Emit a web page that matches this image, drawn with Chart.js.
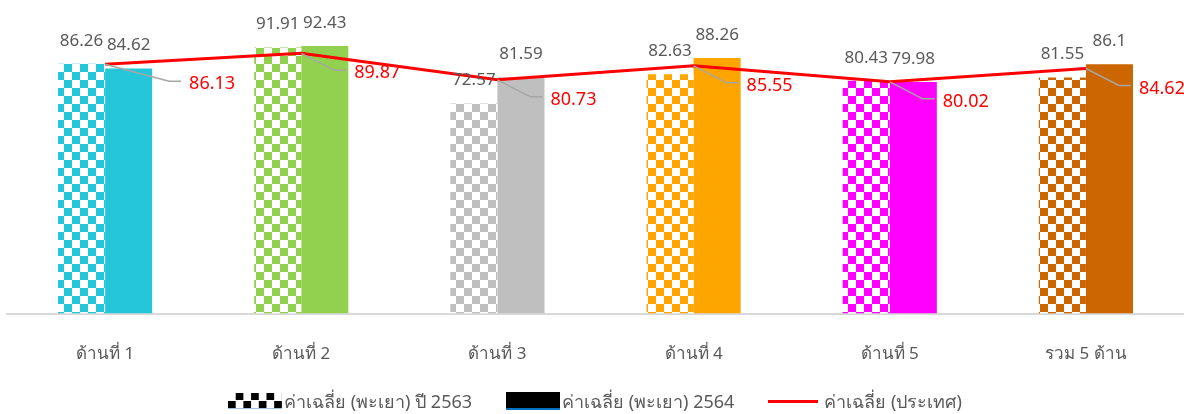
<!DOCTYPE html>
<html>
<head>
<meta charset="utf-8">
<script src="https://cdn.jsdelivr.net/npm/chart.js@4"></script>
<style>
    body { margin: 0; background: #fff; }
    .wrap { position: relative; width: 1184px; height: 414px; }
    #legend {
        position: absolute; left: 228px; top: 390px; height: 22px;
        display: flex; align-items: center;
        font-family: "Noto Sans", sans-serif; font-size: 18px; color: #595959;
    }
    .item { display: flex; align-items: center; margin-right: 34px; }
    .sw { width: 54px; height: 15px; margin-right: 2px; }
    .checker {
        background-image: conic-gradient(#000 25%, #fff 0 50%, #000 0 75%, #fff 0);
        background-size: 15.4px 15px;
        border-bottom: 1px solid #9dc3e6;
    }
    .solid { background: #000; border-bottom: 2px solid #0070c0; height: 16px; }
    .ln { width: 50px; height: 3px; background: #ff0000; margin-right: 6px; }
</style>
</head>
<body>
<div class="wrap">
    <canvas id="chart" width="1184" height="414"></canvas>
    <div id="legend">
        <div class="item"><div class="sw checker"></div>ค่าเฉลี่ย (พะเยา) ปี 2563</div>
        <div class="item"><div class="sw solid"></div>ค่าเฉลี่ย (พะเยา) 2564</div>
        <div class="item"><div class="ln"></div>ค่าเฉลี่ย (ประเทศ)</div>
    </div>
</div>
<script>
    var categories = ['ด้านที่ 1', 'ด้านที่ 2', 'ด้านที่ 3', 'ด้านที่ 4', 'ด้านที่ 5', 'รวม 5 ด้าน'];
    var values2563 = [86.26, 91.91, 72.57, 82.63, 80.43, 81.55];
    var values2564 = [84.62, 92.43, 81.59, 88.26, 79.98, 86.1];
    var countryAvg = [86.13, 89.87, 80.73, 85.55, 80.02, 84.62];
    var barColors = ['#26c6da', '#92d050', '#bfbfbf', '#ffa500', '#ff00ff', '#cc6600'];

    function checker(color) {
        var c = document.createElement('canvas');
        c.width = 16; c.height = 16;
        var g = c.getContext('2d');
        g.fillStyle = '#fff';
        g.fillRect(0, 0, 16, 16);
        g.fillStyle = color;
        g.fillRect(0, 0, 8, 8);
        g.fillRect(8, 8, 8, 8);
        return g.createPattern(c, 'repeat');
    }

    var labelPlugin = {
        id: 'labels',
        afterDatasetsDraw: function (chart) {
            var ctx = chart.ctx;
            ctx.save();
            ctx.textAlign = 'center';
            ctx.textBaseline = 'middle';
            ctx.font = '17px "Noto Sans", sans-serif';
            ctx.fillStyle = '#595959';
            [1, 2].forEach(function (di) {
                var ds = chart.data.datasets[di];
                chart.getDatasetMeta(di).data.forEach(function (bar, i) {
                    ctx.fillText(String(ds.data[i]), bar.x, bar.y - 23);
                });
            });
            // leader lines + red labels for the national average
            var line = chart.getDatasetMeta(0).data;
            ctx.font = '18px "Noto Sans", sans-serif';
            ctx.textAlign = 'left';
            line.forEach(function (pt, i) {
                var tx = pt.x + (i === 0 ? 84 : 53);
                ctx.strokeStyle = '#a6a6a6';
                ctx.lineWidth = 1.5;
                ctx.beginPath();
                ctx.moveTo(pt.x, pt.y);
                ctx.lineTo(tx - 20, pt.y + 17);
                ctx.lineTo(tx - 8, pt.y + 17);
                ctx.stroke();
                ctx.fillStyle = '#ff0000';
                ctx.fillText(String(countryAvg[i]), tx, pt.y + 20);
            });
            ctx.restore();
        }
    };

    new Chart(document.getElementById('chart'), {
        data: {
            labels: categories,
            datasets: [{
                type: 'line',
                label: 'ค่าเฉลี่ย (ประเทศ)',
                data: countryAvg,
                borderColor: '#ff0000',
                borderWidth: 3,
                pointRadius: 0,
                tension: 0,
                order: 0
            }, {
                type: 'bar',
                label: 'ค่าเฉลี่ย (พะเยา) ปี 2563',
                data: values2563,
                backgroundColor: barColors.map(checker),
                categoryPercentage: 0.48,
                barPercentage: 1,
                order: 1
            }, {
                type: 'bar',
                label: 'ค่าเฉลี่ย (พะเยา) 2564',
                data: values2564,
                backgroundColor: barColors,
                categoryPercentage: 0.48,
                barPercentage: 1,
                order: 1
            }]
        },
        options: {
            responsive: false,
            animation: false,
            layout: { padding: { left: 7, right: 0, top: 24, bottom: 28 } },
            plugins: { legend: { display: false }, tooltip: { enabled: false } },
            scales: {
                x: {
                    grid: { display: false },
                    border: { color: '#d9d9d9', width: 2 },
                    ticks: {
                        color: '#595959',
                        padding: 22,
                        font: { family: '"Noto Sans", sans-serif', size: 17 }
                    }
                },
                y: { display: false, min: 0, max: 100 }
            }
        },
        plugins: [labelPlugin]
    });
</script>
</body>
</html>
